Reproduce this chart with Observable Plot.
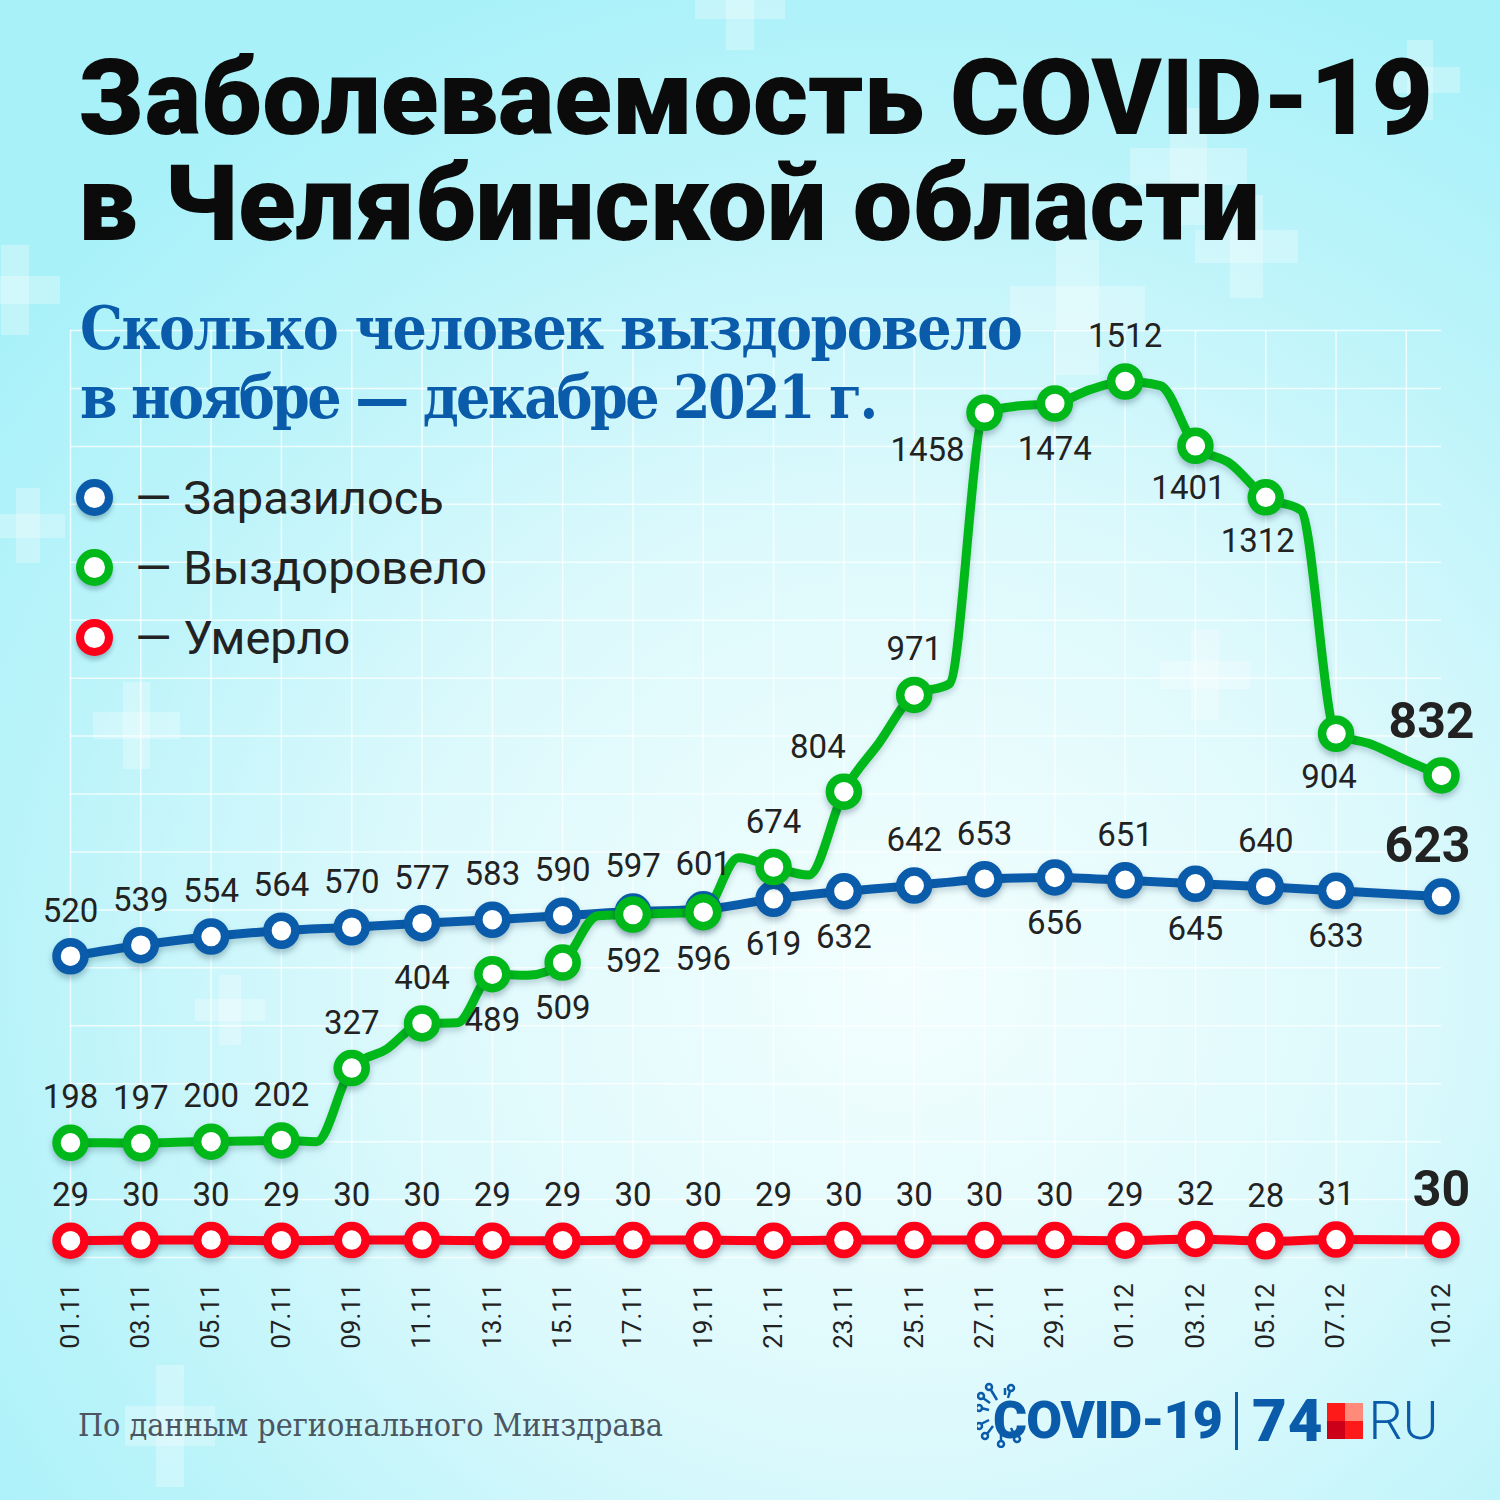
<!DOCTYPE html>
<html>
<head>
<meta charset="utf-8">
<script src="https://cdn.jsdelivr.net/npm/d3@7"></script>
<script src="https://cdn.jsdelivr.net/npm/@observablehq/plot@0.6"></script>
<style>
  html, body { margin: 0; padding: 0; }
  #page {
    position: relative; width: 1500px; height: 1500px; overflow: hidden;
    background:
      radial-gradient(ellipse 75% 70% at 60% 65%, #f3fefe 0%, #dcf9fc 45%, #bdf4fa 75%, #a9f1f9 100%);
    font-family: Roboto, "Noto Sans", sans-serif;
  }
  .cross { position: absolute; }
  .cross::before, .cross::after { content: ""; position: absolute; background: rgba(255,255,255,0.28); }
  .cross::before { left: 34%; width: 32%; top: 0; height: 100%; }
  .cross::after { top: 34%; height: 32%; left: 0; width: 100%; }
  #chart { position: absolute; left: 0; top: 0; }
  #chart svg g[aria-label="dot"] { filter: drop-shadow(0px 4px 3px rgba(0,40,60,0.28)); }
  #chart svg g[aria-label="line"] { filter: drop-shadow(0px 4px 3px rgba(0,40,60,0.18)); }
  .title {
    position: absolute; left: 78px; margin: 0; height: 104px; white-space: nowrap;
    font-size: 106px; font-weight: 900; line-height: 104px; color: #0b0b0b;
  }
  #title1 { top: 46px; }
  #title2 { top: 152px; }
  .sub {
    position: absolute; left: 80px; margin: 0; white-space: nowrap; height: 66px;
    font-family: "DejaVu Serif Condensed", "DejaVu Serif", serif; font-weight: bold;
    font-size: 60px; line-height: 66px; color: #0a5cab; letter-spacing: -1.5px;
  }
  #sub1 { top: 295px; }
  #sub2 { top: 364px; letter-spacing: -2.6px; }
  #legend { position: absolute; left: 76px; top: 462px; }
  .leg { display: flex; align-items: center; height: 70px; font-size: 47px; color: #222; }
  .leg .m {
    box-sizing: border-box; width: 37px; height: 37px; border-radius: 50%;
    border: 8.5px solid; background: #fff; margin-right: 22px;
    box-shadow: 0 4px 4px rgba(0,40,60,0.25);
  }
  #source {
    position: absolute; left: 78px; top: 1406px;
    font-family: "DejaVu Serif Condensed", "DejaVu Serif", serif; font-size: 32px; color: #4b5661;
  }
  #logo { position: absolute; left: 993px; top: 1385px; display: flex; align-items: center; color: #0a5cab; }
  #logo .covid { font-size: 52px; font-weight: 900; letter-spacing: -1px; position: relative; }
  #logo .bar { width: 3px; height: 58px; background: #0a5cab; margin: 0 14px 0 13px; }
  #logo .n74 { font-size: 60px; font-weight: 900; letter-spacing: 1px; }
  #logo .sq { display: grid; grid-template-columns: 18px 18px; grid-template-rows: 18px 18px; margin: 0 5px 0 4px; }
  #logo .ru { font-size: 54px; font-weight: 300; }
</style>
</head>
<body>
<div id="page">
  <div class="cross" style="left:-30px;top:245px;width:90px;height:90px"></div>
  <div class="cross" style="left:-10px;top:488px;width:75px;height:75px"></div>
  <div class="cross" style="left:93px;top:682px;width:87px;height:87px"></div>
  <div class="cross" style="left:1130px;top:108px;width:117px;height:117px"></div>
  <div class="cross" style="left:1195px;top:195px;width:103px;height:103px"></div>
  <div class="cross" style="left:1010px;top:240px;width:135px;height:135px"></div>
  <div class="cross" style="left:695px;top:-40px;width:90px;height:90px"></div>
  <div class="cross" style="left:125px;top:1365px;width:90px;height:122px"></div>
  <div class="cross" style="left:195px;top:975px;width:70px;height:70px"></div>
  <div class="cross" style="left:1160px;top:630px;width:90px;height:90px"></div>
  <div class="cross" style="left:1380px;top:40px;width:80px;height:80px"></div>
  <div id="chart"></div>
  <div class="title" id="title1">Заболеваемость COVID-19</div>
  <div class="title" id="title2">в Челябинской области</div>
  <div class="sub" id="sub1">Сколько человек выздоровело</div>
  <div class="sub" id="sub2">в ноябре — декабре 2021 г.</div>
  <div id="legend"></div>
  <div id="source">По данным регионального Минздрава</div>
  <div id="logo">
    <span class="covid">
      <svg width="48" height="70" viewBox="0 0 48 70" style="position:absolute;left:-16px;top:-12px" fill="none" stroke="#0a5cab" stroke-width="2.5">
        <line x1="14" y1="12" x2="20" y2="22"/><circle cx="12" cy="9" r="3"/>
        <line x1="28" y1="10" x2="28" y2="17"/><circle cx="34" cy="10" r="3"/><line x1="33" y1="13" x2="31" y2="20"/>
        <line x1="4" y1="30" x2="12" y2="32"/><circle cx="2" cy="30" r="3"/>
        <line x1="6" y1="20" x2="13" y2="25"/><circle cx="4" cy="18" r="3"/>
        <line x1="4" y1="46" x2="12" y2="42"/><circle cx="2" cy="48" r="3"/>
        <line x1="10" y1="56" x2="16" y2="48"/><circle cx="8" cy="58" r="3"/>
        <line x1="24" y1="56" x2="24" y2="62"/><circle cx="24" cy="66" r="3"/>
        <line x1="34" y1="50" x2="38" y2="58"/><circle cx="40" cy="61" r="3"/>
      </svg>
      <span style="position:relative">COVID-19</span>
    </span>
    <span class="bar"></span>
    <span class="n74">74</span>
    <span class="sq">
      <span style="background:#ff1a1a"></span><span style="background:#ff8a7a"></span>
      <span style="background:#cc0018"></span><span style="background:#ff1a1a"></span>
    </span>
    <span class="ru">RU</span>
  </div>
</div>
<script>
// ---- data ----
const tickLabels = ["01.11","03.11","05.11","07.11","09.11","11.11","13.11","15.11","17.11","19.11",
                    "21.11","23.11","25.11","27.11","29.11","01.12","03.12","05.12","07.12","10.12"];
const infected  = [520,539,554,564,570,577,583,590,597,601,619,632,642,653,656,651,645,640,633,623];
const recovered = [198,197,200,202,327,404,489,509,592,596,674,804,971,1458,1474,1512,1401,1312,904,832];
const died      = [29,30,30,29,30,30,29,29,30,30,29,30,30,30,30,29,32,28,31,30];
// daily recoveries 01.11 – 10.12 (marked days above)
const recoveredDaily = [198,198,197,199,200,201,202,200,327,360,404,405,489,487,509,590,592,594,596,690,
                        674,660,804,888,971,990,1458,1470,1474,1498,1512,1505,1401,1370,1312,1290,904,886,858,832];
const seriesNames = ["Заразилось","Выздоровело","Умерло"];
const gridStep = 100;

// ---- styling / placement config ----
const colors = {"Заразилось": "#0a5cab", "Выздоровело": "#00b81a", "Умерло": "#ff0019"};
const ABOVE = -45, BELOW = 46;
const placeInfected = {"21.11": [0, BELOW], "23.11": [0, BELOW], "29.11": [0, BELOW], "03.12": [0, BELOW], "07.12": [0, BELOW]};
const placeRecovered = {"13.11": [0, BELOW], "15.11": [0, BELOW], "17.11": [0, 47], "19.11": [0, 47],
  "23.11": [-26, -44], "27.11": [-57, 38], "29.11": [0, BELOW], "03.12": [-7, 43], "05.12": [-8, 44], "07.12": [-7, 44]};
const placeDied = {};

const parseDate = s => new Date(Date.UTC(2021, +s.slice(3, 5) - 1, +s.slice(0, 2)));
const markDates = tickLabels.map(parseDate);
const start = markDates[0], end = markDates[markDates.length - 1];
const days = d3.utcDay.range(start, d3.utcDay.offset(end, 1));
const gridDates = d3.utcDay.every(2).range(start, end);

const mk = (vals) => vals.map((v, i) => ({date: markDates[i], label: tickLabels[i], value: v}));
const inf = mk(infected), rec = mk(recovered), dead = mk(died);
const recDaily = recoveredDaily.map((v, i) => ({date: days[i], value: v}));

function labelMarks(rows, place, last) {
  const marks = [];
  rows.forEach((d, i) => {
    const isLast = i === rows.length - 1;
    let [dx, dy] = place[d.label] || [0, ABOVE];
    if (isLast) [dx, dy] = last;
    marks.push(Plot.text([d], {
      x: "date", y: "value", text: d => String(d.value), dx, dy,
      fontSize: isLast ? 50 : 33, fontWeight: isLast ? "bold" : "normal",
      fill: "#222", fontFamily: "Roboto"
    }));
  });
  return marks;
}

const lineOpts = (color) => ({x: "date", y: "value", stroke: color, strokeWidth: 9, curve: "monotone-x"});
const dotOpts = (color) => ({x: "date", y: "value", r: 14, fill: "white", stroke: color, strokeWidth: 8.5});

const chart = Plot.plot({
  width: 1500, height: 1500,
  marginTop: 330, marginBottom: 243, marginLeft: 70, marginRight: 59,
  style: {background: "transparent", fontFamily: "Roboto", color: "#222", overflow: "visible"},
  x: {type: "utc", domain: [start, end]},
  y: {domain: [0, 1600], axis: null},
  marks: [
    Plot.ruleX(gridDates, {stroke: "white", strokeOpacity: 0.75, strokeWidth: 1.5}),
    Plot.ruleY(d3.range(0, 1600 + 1, gridStep), {stroke: "white", strokeOpacity: 0.75, strokeWidth: 1.5}),
    Plot.axisX(markDates, {tickFormat: d3.utcFormat("%d.%m"), tickRotate: -90, tickSize: 0, tickPadding: 26,
                           fontSize: 26, label: null}),
    Plot.line(inf, lineOpts(colors["Заразилось"])),
    Plot.line(recDaily, lineOpts(colors["Выздоровело"])),
    Plot.line(dead, lineOpts(colors["Умерло"])),
    Plot.dot(inf, dotOpts(colors["Заразилось"])),
    Plot.dot(rec, dotOpts(colors["Выздоровело"])),
    Plot.dot(dead, dotOpts(colors["Умерло"])),
    ...labelMarks(inf, placeInfected, [-14, -51]),
    ...labelMarks(rec, placeRecovered, [-10, -53]),
    ...labelMarks(dead, placeDied, [0, -50])
  ]
});
document.getElementById("chart").appendChild(chart);

// legend
const legend = document.getElementById("legend");
seriesNames.forEach(name => {
  const row = document.createElement("div");
  row.className = "leg";
  const m = document.createElement("span");
  m.className = "m";
  m.style.borderColor = colors[name];
  row.appendChild(m);
  row.appendChild(document.createTextNode("— " + name));
  legend.appendChild(row);
});
</script>
</body>
</html>
